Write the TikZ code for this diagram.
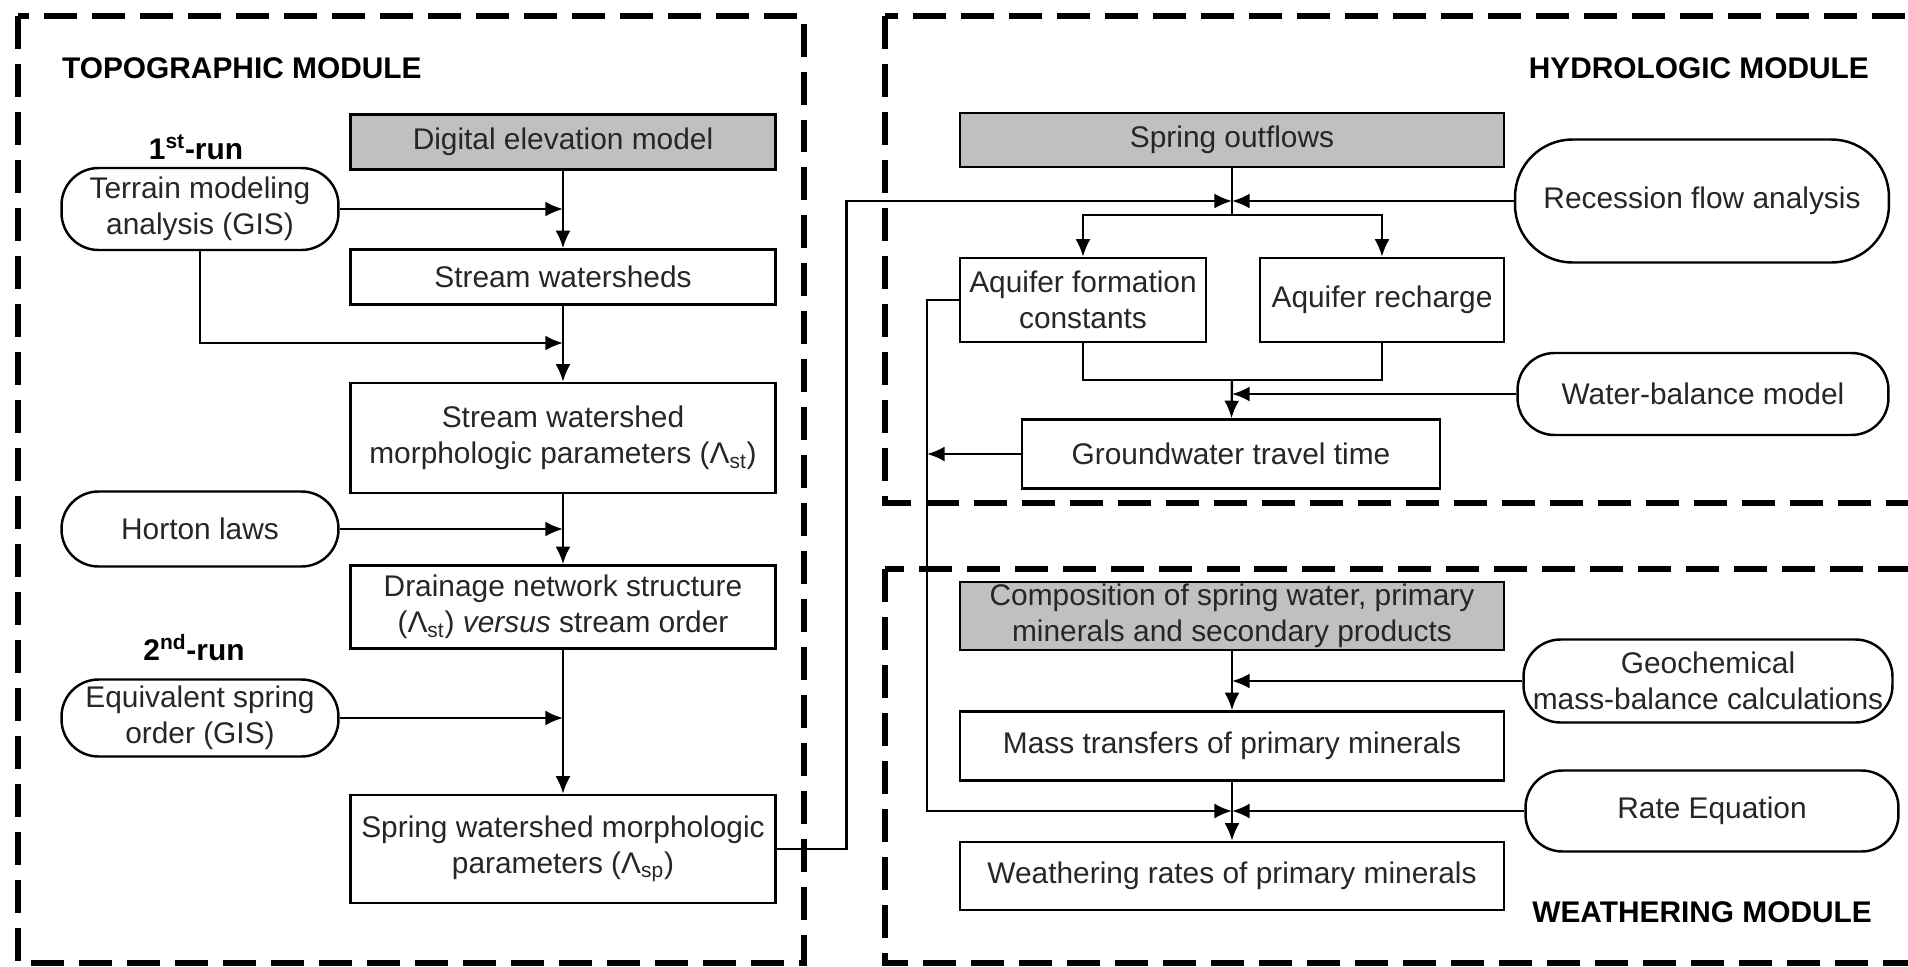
\documentclass[tikz,border=0pt]{standalone}
\usepackage{fontspec}
\setmainfont{Liberation Sans}
\usepackage{tikz}
\usetikzlibrary{arrows.meta}
\definecolor{boxgray}{RGB}{192,192,192}

\begin{document}
\begin{tikzpicture}[x=0.02cm, y=-0.02cm, line width=1.4pt,
every node/.style={font=\fontsize{17}{20.5}\selectfont, text=black!85},
box/.style={draw, minimum width=8.5cm, inner xsep=3pt, inner ysep=0pt, align=center},
data/.style={box, fill=boxgray},
pill/.style={draw, rounded corners=0.74cm, inner xsep=3pt, inner ysep=0pt, align=center},
modframe/.style={line width=3pt, dash pattern=on 0.66cm off 0.3cm},
modtitle/.style={font=\fontsize{17}{20.5}\selectfont\bfseries, text=black},
arr/.style={-{Latex[length=10pt,width=8.5pt]}}]
% Coordinates are the pixels of the original figure, y runs downwards
\useasboundingbox (0,0) rectangle (1908,967);
\clip (0,0) rectangle (1908,967);
% The three module frames, the right ones run off the page
\draw[modframe] (18,16) rectangle (804,963);
\draw[modframe] (885,16) rectangle (1940,503);
\draw[modframe] (885,569) rectangle (1940,963);
% Topographic module
\node[modtitle, anchor=west] (topotitle) at (55,68) {TOPOGRAPHIC MODULE};
\node[modtitle] (run1) at (196,147) {1\textsuperscript{st}-run};
\node[modtitle] (run2) at (194,648) {2\textsuperscript{nd}-run};
\node[data, minimum height=1.1cm] (dem) at (563,142) {Digital elevation model};
\node[box, minimum height=1.1cm] (sws) at (563,277) {Stream watersheds};
\node[box, minimum height=2.2cm] (swmp) at (563,438) {Stream watershed\\morphologic parameters (Λ\textsubscript{st})};
\node[box, minimum height=1.66cm] (dns) at (563,607) {Drainage network structure\\(Λ\textsubscript{st}) \textit{versus} stream order};
\node[box, minimum height=2.16cm] (spmp) at (563,849) {Spring watershed morphologic\\parameters (Λ\textsubscript{sp})};
\node[pill, minimum width=5.54cm, minimum height=1.64cm] (terrain) at (200,209) {Terrain modeling\\analysis (GIS)};
\node[pill, minimum width=5.54cm, minimum height=1.5cm] (horton) at (200,529) {Horton laws};
\node[pill, minimum width=5.54cm, minimum height=1.54cm] (equiv) at (200,718) {Equivalent spring\\order (GIS)};
% Hydrologic module
\node[modtitle, anchor=east] (hydrotitle) at (1876,68) {HYDROLOGIC MODULE};
\node[data, minimum width=10.88cm, minimum height=1.08cm] (outflows) at (1232,140) {Spring outflows};
\node[box, minimum width=4.92cm, minimum height=1.68cm] (afc) at (1083,300) {Aquifer formation\\constants};
\node[box, minimum width=4.88cm, minimum height=1.68cm] (recharge) at (1382,300) {Aquifer recharge};
\node[box, minimum width=8.36cm, minimum height=1.38cm] (gtt) at (1231,454) {Groundwater travel time};
\node[pill, rounded corners=1.15cm, minimum width=7.48cm, minimum height=2.46cm] (recession) at (1702,201) {Recession flow analysis};
\node[pill, minimum width=7.42cm, minimum height=1.64cm] (wbm) at (1703,394) {Water-balance model};
% Weathering module
\node[modtitle, anchor=east] (weathtitle) at (1879,912) {WEATHERING MODULE};
\node[data, minimum width=10.88cm, minimum height=1.36cm] (compo) at (1232,616) {Composition of spring water, primary\\minerals and secondary products};
\node[box, minimum width=10.88cm, minimum height=1.38cm] (masstr) at (1232,746) {Mass transfers of primary minerals};
\node[box, minimum width=10.88cm, minimum height=1.36cm] (wrates) at (1232,876) {Weathering rates of primary minerals};
\node[pill, minimum width=7.38cm, minimum height=1.66cm] (geochem) at (1708,681) {Geochemical\\mass-balance calculations};
\node[pill, minimum width=7.46cm, minimum height=1.62cm] (rateq) at (1712,811) {Rate Equation};
% Junction points on the flow lines
\coordinate (tjoin) at (563,343);
\coordinate (jtop) at (1232,201);
\coordinate (split) at (1232,215);
\coordinate (jmid) at (1232,380);
\coordinate (jlow) at (1232,811);
\coordinate (back) at (927,300);
% Topographic arrows
\draw[arr] (dem) -- (sws);
\draw[arr] (terrain) -- (terrain -| dem);
\draw[arr] (terrain.south) |- (tjoin);
\draw[arr] (sws) -- (swmp);
\draw[arr] (swmp) -- (dns);
\draw[arr] (horton) -- (horton -| dns);
\draw[arr] (dns) -- (spmp);
\draw[arr] (equiv) -- (equiv -| dns);
% Hydrologic arrows
\draw[arr] (spmp.east) -- ++(70,0) |- (jtop);
\draw[arr] (recession) -- (jtop);
\draw (outflows) -- (split);
\draw[arr] (split) -| (afc.north);
\draw[arr] (split) -| (recharge.north);
\draw (afc.south) |- (jmid) -| (recharge.south);
\draw[arr] (jmid) -- (gtt);
\draw[arr] (wbm) -- (wbm -| jmid);
\draw[arr] (gtt) -- (gtt -| back);
\draw[arr] (afc.west) -- (back) |- (jlow);
% Weathering arrows
\draw[arr] (compo) -- (masstr);
\draw[arr] (geochem) -- (geochem -| compo);
\draw[arr] (masstr) -- (wrates);
\draw[arr] (rateq) -- (jlow);
\end{tikzpicture}
\end{document}
